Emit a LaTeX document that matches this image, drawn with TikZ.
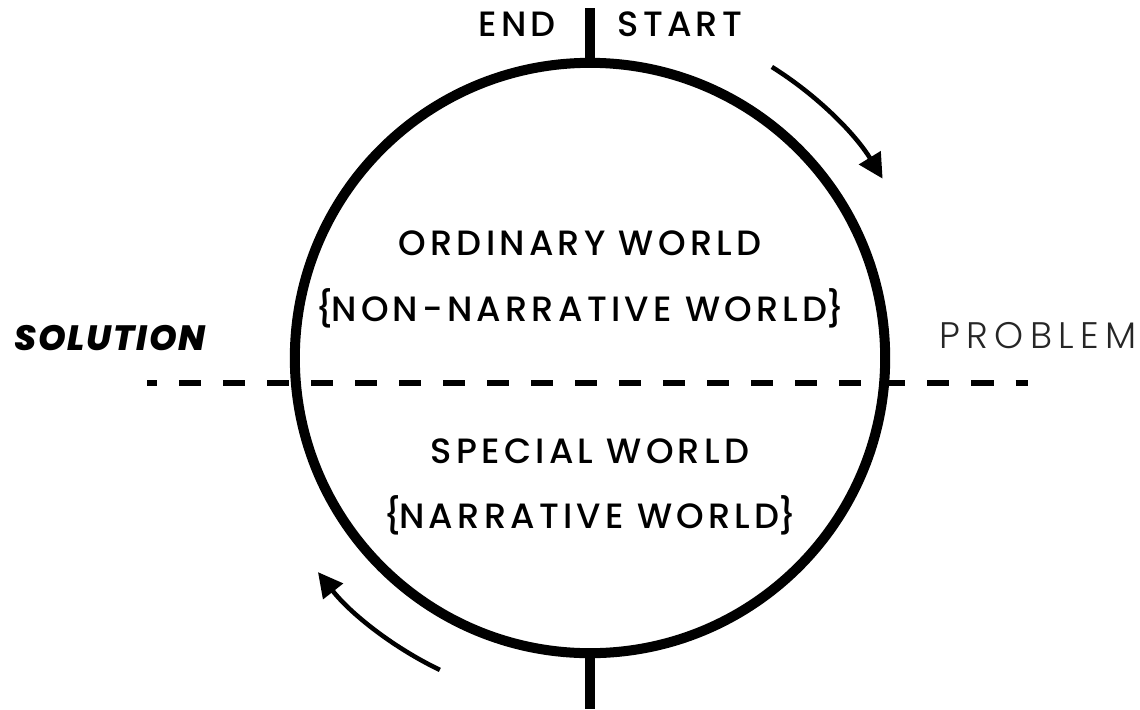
\documentclass[tikz,border=0pt]{standalone}
\usepackage{fontspec}
\setmainfont{Poppins}
\newfontfamily\medfont{Poppins Medium}[LetterSpace=12]
\newfontfamily\lightfont{Poppins Light}[LetterSpace=17]
\newfontfamily\heavyfont{Poppins ExtraBold Italic}[LetterSpace=5]
\usetikzlibrary{calc,arrows.meta}
\tikzset{
   world label/.style={font=\medfont\fontsize{10}{12}\selectfont, anchor=base, inner sep=0pt},
   side label/.style={anchor=base, inner sep=0pt},
   flow/.style={-{Triangle[length=7pt,width=7pt]}, line width=1.3pt},
   tick/.style={line width=1mm}
}
\newcommand{\braced}[1]{\{\kern-0.6pt#1\kern-0.3pt\}}

\begin{document}
\begin{tikzpicture}[x=0.01cm, y=0.01cm]
\useasboundingbox (0,0) rectangle (1140,-709);
% the circle of the two worlds
\node[draw, circle, line width=1mm, minimum size=5.9cm, inner sep=0pt] (globe) at (590,-358) {};
\coordinate (top) at (590,-8);
\coordinate (bottom) at (590,-709);
\draw[tick] (top) -- (globe.north);
\draw[tick] (globe.south) -- (bottom);
%
\coordinate (west) at (147,-383);
\coordinate (east) at (1028,-383);
\draw[line width=0.06cm, dash pattern=on 0.22cm off 0.22cm, dash phase=0.12cm] (west) -- (east);
%
\node[world label] (end) at (517,-37) {END};
\node[world label] (start) at (680,-37) {START};
\node[world label] (ordinary) at (580,-255) {ORDINARY WORLD};
\node[world label] (nonnarr) at (580,-321) {\braced{NON-NARRATIVE WORLD}};
\node[world label] (special) at (590,-463) {SPECIAL WORLD};
\node[world label] (narr) at (590,-528) {\braced{NARRATIVE WORLD}};
\node[side label, font=\heavyfont\fontsize{10}{12}\selectfont] (solution) at (110,-350) {SOLUTION};
\node[side label, font=\lightfont\fontsize{10.5}{12}\selectfont, text=black!85] (problem) at (1038,-348) {PROBLEM};
% direction of travel
\coordinate (a1) at ($(globe.center)+(58:3.43cm)$);
\coordinate (a2) at ($(globe.center)+(244.3:3.46cm)$);
\draw[flow] (a1) arc[start angle=58, end angle=31.5, radius=3.43cm];
\draw[flow] (a2) arc[start angle=244.3, end angle=218.2, radius=3.46cm];
\end{tikzpicture}
\end{document}
